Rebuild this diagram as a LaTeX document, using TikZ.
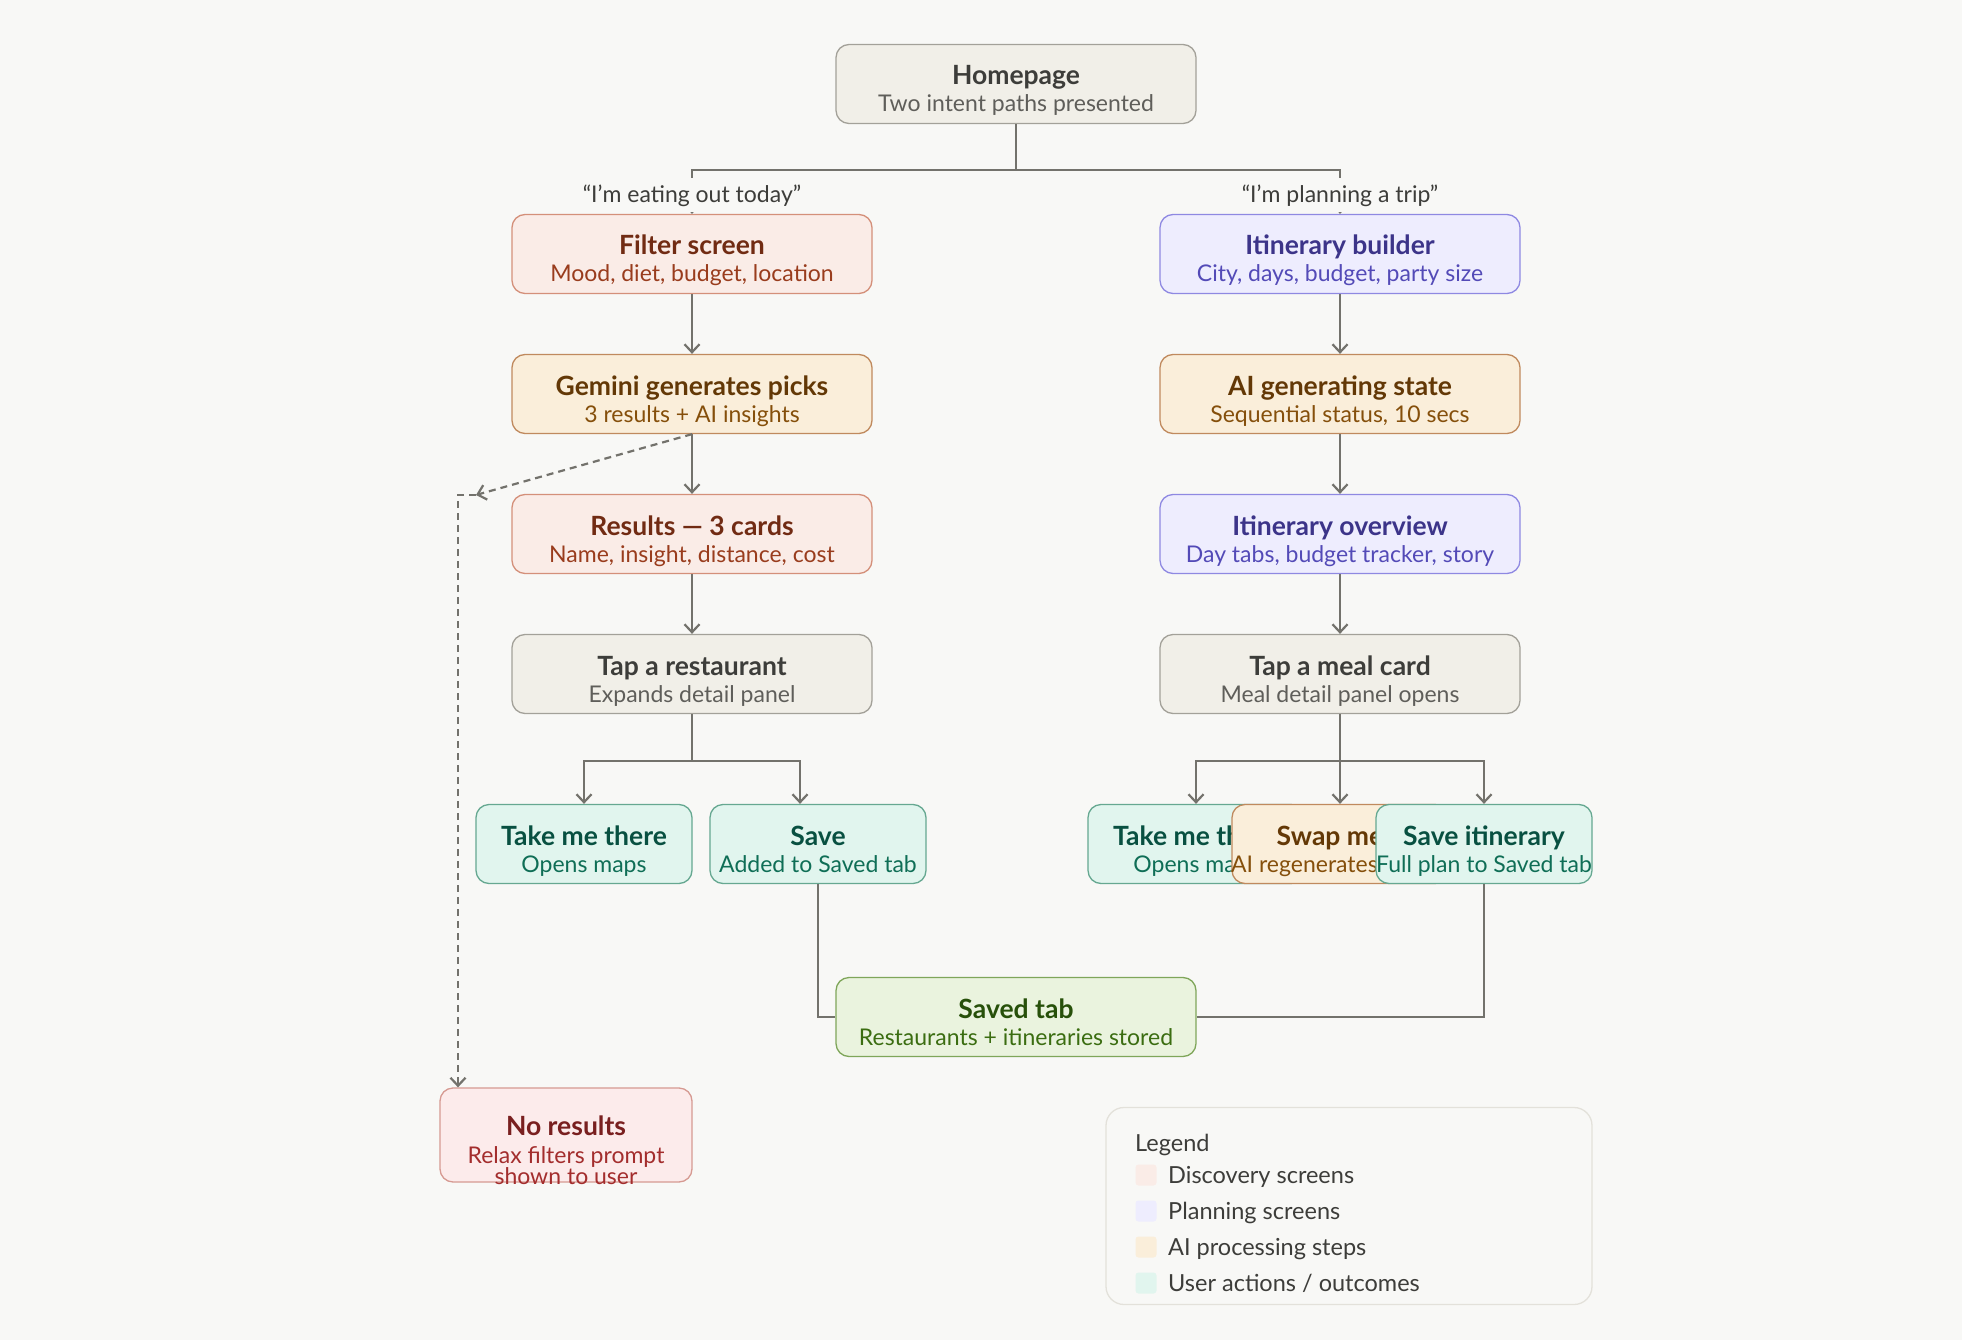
\documentclass[tikz,border=0pt]{standalone}
\usepackage{fontspec}
\setmainfont{Lato}
\usepackage{xcolor}
\usetikzlibrary{arrows.meta}

\definecolor{paper}{HTML}{F8F8F6}
\definecolor{wire}{HTML}{73726C}
\definecolor{greyfill}{HTML}{F1EFE8}
\definecolor{greyline}{HTML}{A3A199}
\definecolor{greytitle}{HTML}{3D3D3A}
\definecolor{greysub}{HTML}{5F5E5A}
\definecolor{coralfill}{HTML}{FAECE7}
\definecolor{coralline}{HTML}{D4907A}
\definecolor{coraltitle}{HTML}{712B13}
\definecolor{coralsub}{HTML}{993C1D}
\definecolor{redfill}{HTML}{FCEBEB}
\definecolor{redline}{HTML}{D69A92}
\definecolor{redtitle}{HTML}{791F1F}
\definecolor{redsub}{HTML}{A32D2D}
\definecolor{purplefill}{HTML}{EEEDFE}
\definecolor{purpleline}{HTML}{8F89E2}
\definecolor{purpletitle}{HTML}{3C3489}
\definecolor{purplesub}{HTML}{534AB7}
\definecolor{amberfill}{HTML}{FAEEDA}
\definecolor{amberline}{HTML}{C08A5E}
\definecolor{ambertitle}{HTML}{633806}
\definecolor{ambersub}{HTML}{854F0B}
\definecolor{tealfill}{HTML}{E1F5EE}
\definecolor{tealline}{HTML}{66A891}
\definecolor{tealtitle}{HTML}{085041}
\definecolor{tealsub}{HTML}{0F6E56}
\definecolor{greenfill}{HTML}{EAF3DE}
\definecolor{greenline}{HTML}{7FA65A}
\definecolor{greentitle}{HTML}{27500A}
\definecolor{greensub}{HTML}{3B6D11}
\definecolor{legendline}{HTML}{E3E1DA}

\begin{document}
\begin{tikzpicture}[x=1pt,y=-1pt,
    screen/.style={rounded corners=13pt,line width=1.3pt,minimum width=360pt,minimum height=79pt,inner sep=0pt},
    action/.style={screen,minimum width=216pt},
    grey/.style={fill=greyfill,draw=greyline},
    coral/.style={fill=coralfill,draw=coralline},
    redbox/.style={fill=redfill,draw=redline},
    purple/.style={fill=purplefill,draw=purpleline},
    amber/.style={fill=amberfill,draw=amberline},
    teal/.style={fill=tealfill,draw=tealline},
    greenbox/.style={fill=greenfill,draw=greenline},
    ttl/.style={anchor=base,inner sep=0pt,font=\fontsize{26.5}{31}\selectfont\bfseries},
    subline/.style={anchor=base,inner sep=0pt,font=\fontsize{23}{27}\selectfont},
    intent/.style={anchor=base,fill=paper,inner sep=0pt,inner xsep=4pt,text height=25pt,text depth=9pt,
        text=greytitle,font=\fontsize{23}{27}\selectfont},
    flow/.style={draw=wire,line width=2.2pt,-{Straight Barb[length=8pt,width=15pt]}},
    link/.style={draw=wire,line width=2.2pt},
    dashflow/.style={flow,dash pattern=on 7pt off 5pt},
    swatch/.style={minimum size=21pt,inner sep=0pt,rounded corners=3pt},
    legendtext/.style={anchor=base west,inner sep=0pt,text=greytitle,font=\fontsize{23.5}{28}\selectfont}
  ]
  \fill[paper] (0,0) rectangle (1962,1340);
  \useasboundingbox (0,0) rectangle (1962,1340);

  % entry
  \node[screen,grey] (home) at (1016,84) {};
  \node[ttl,text=greytitle] (home-t) at ([yshift=-1pt]home.center) {Homepage};
  \node[subline,text=greysub] (home-s) at ([yshift=-28pt]home.center) {Two intent paths presented};

  % discovery path
  \node[screen,coral] (filter) at (692,254) {};
  \node[ttl,text=coraltitle] (filter-t) at ([yshift=-1pt]filter.center) {Filter screen};
  \node[subline,text=coralsub] (filter-s) at ([yshift=-28pt]filter.center) {Mood, diet, budget, location};
  \node[screen,amber] (gemini) at (692,394) {};
  \node[ttl,text=ambertitle] (gemini-t) at ([yshift=-1pt]gemini.center) {Gemini generates picks};
  \node[subline,text=ambersub] (gemini-s) at ([yshift=-28pt]gemini.center) {3 results + AI insights};
  \node[screen,coral] (results) at (692,534) {};
  \node[ttl,text=coraltitle] (results-t) at ([yshift=-1pt]results.center) {Results — 3 cards};
  \node[subline,text=coralsub] (results-s) at ([yshift=-28pt]results.center) {Name, insight, distance, cost};
  \node[screen,grey] (taprest) at (692,674) {};
  \node[ttl,text=greytitle] (taprest-t) at ([yshift=-1pt]taprest.center) {Tap a restaurant};
  \node[subline,text=greysub] (taprest-s) at ([yshift=-28pt]taprest.center) {Expands detail panel};
  \node[action,teal] (takel) at (584,844) {};
  \node[ttl,text=tealtitle] (takel-t) at ([yshift=-1pt]takel.center) {Take me there};
  \node[subline,text=tealsub] (takel-s) at ([yshift=-28pt]takel.center) {Opens maps};
  \node[action,teal] (save) at (818,844) {};
  \node[ttl,text=tealtitle] (save-t) at ([yshift=-1pt]save.center) {Save};
  \node[subline,text=tealsub] (save-s) at ([yshift=-28pt]save.center) {Added to Saved tab};
  \node[screen,redbox,minimum width=252pt,minimum height=94pt] (nores) at (566,1135) {};
  \node[ttl,text=redtitle] (nores-t) at (nores.center) {No results};
  \node[subline,text=redsub] (nores-s1) at ([yshift=-28pt]nores.center) {Relax filters prompt};
  \node[subline,text=redsub] (nores-s2) at ([yshift=-49pt]nores.center) {shown to user};

  % planning path
  \node[screen,purple] (itin) at (1340,254) {};
  \node[ttl,text=purpletitle] (itin-t) at ([yshift=-1pt]itin.center) {Itinerary builder};
  \node[subline,text=purplesub] (itin-s) at ([yshift=-28pt]itin.center) {City, days, budget, party size};
  \node[screen,amber] (aigen) at (1340,394) {};
  \node[ttl,text=ambertitle] (aigen-t) at ([yshift=-1pt]aigen.center) {AI generating state};
  \node[subline,text=ambersub] (aigen-s) at ([yshift=-28pt]aigen.center) {Sequential status, 10 secs};
  \node[screen,purple] (overview) at (1340,534) {};
  \node[ttl,text=purpletitle] (overview-t) at ([yshift=-1pt]overview.center) {Itinerary overview};
  \node[subline,text=purplesub] (overview-s) at ([yshift=-28pt]overview.center) {Day tabs, budget tracker, story};
  \node[screen,grey] (tapmeal) at (1340,674) {};
  \node[ttl,text=greytitle] (tapmeal-t) at ([yshift=-1pt]tapmeal.center) {Tap a meal card};
  \node[subline,text=greysub] (tapmeal-s) at ([yshift=-28pt]tapmeal.center) {Meal detail panel opens};
  \node[action,teal] (taker) at (1196,844) {};
  \node[ttl,text=tealtitle] (taker-t) at ([yshift=-1pt]taker.center) {Take me there};
  \node[subline,text=tealsub] (taker-s) at ([yshift=-28pt]taker.center) {Opens maps};
  \node[action,amber] (swap) at (1340,844) {};
  \node[ttl,text=ambertitle] (swap-t) at ([yshift=-1pt]swap.center) {Swap meal};
  \node[subline,text=ambersub] (swap-s) at ([yshift=-28pt]swap.center) {AI regenerates a meal};
  \node[action,teal] (saveit) at (1484,844) {};
  \node[ttl,text=tealtitle] (saveit-t) at ([yshift=-1pt]saveit.center) {Save itinerary};
  \node[subline,text=tealsub] (saveit-s) at ([yshift=-28pt]saveit.center) {Full plan to Saved tab};

  \node[screen,greenbox] (saved) at (1016,1017) {};
  \node[ttl,text=greentitle] (saved-t) at ([yshift=-1pt]saved.center) {Saved tab};
  \node[subline,text=greensub] (saved-s) at ([yshift=-28pt]saved.center) {Restaurants + itineraries stored};

  % connectors
  \coordinate (split) at (1016,170);
  \draw[link] (home.south) -- (split);
  \draw[flow] (split) -| (filter.north);
  \draw[flow] (split) -| (itin.north);
  \node[intent] (eat) at (692,203) {“I’m eating out today”};
  \node[intent] (trip) at (1340,203) {“I’m planning a trip”};

  \draw[flow] (filter) -- (gemini);
  \draw[flow] (gemini) -- (results);
  \draw[flow] (results) -- (taprest);
  \draw[flow] (itin) -- (aigen);
  \draw[flow] (aigen) -- (overview);
  \draw[flow] (overview) -- (tapmeal);

  \coordinate (lsplit) at (692,761);
  \draw[link] (taprest.south) -- (lsplit);
  \draw[flow] (lsplit) -| (takel.north);
  \draw[flow] (lsplit) -| ([xshift=-18pt]save.north);
  \coordinate (rsplit) at (1340,761);
  \draw[flow] (tapmeal.south) -- (swap.north);
  \draw[flow] (rsplit) -| (taker.north);
  \draw[flow] (rsplit) -| (saveit.north);

  \draw[link] (save.south) |- (saved.west);
  \draw[link] (saveit.south) |- (saved.east);

  \coordinate (knee) at (476,495);
  \draw[dashflow] (gemini.south) -- (knee);
  \draw[dashflow] (knee) -- ++(-18,0) coordinate (drop) -- (drop |- nores.north);

  % legend
  \node[draw=legendline,fill=paper,line width=1.3pt,rounded corners=18pt,minimum width=486pt,minimum height=197pt] (legend) at (1349,1206) {};
  \node[legendtext] (legend-t) at (1135,1151) {Legend};
  \node[swatch,fill=coralfill] (sw1) at (1146,1175) {};
  \node[legendtext] (lg1) at (1168,1183) {Discovery screens};
  \node[swatch,fill=purplefill] (sw2) at (1146,1211) {};
  \node[legendtext] (lg2) at (1168,1219) {Planning screens};
  \node[swatch,fill=amberfill] (sw3) at (1146,1247) {};
  \node[legendtext] (lg3) at (1168,1255) {AI processing steps};
  \node[swatch,fill=tealfill] (sw4) at (1146,1283) {};
  \node[legendtext] (lg4) at (1168,1291) {User actions / outcomes};
\end{tikzpicture}
\end{document}
